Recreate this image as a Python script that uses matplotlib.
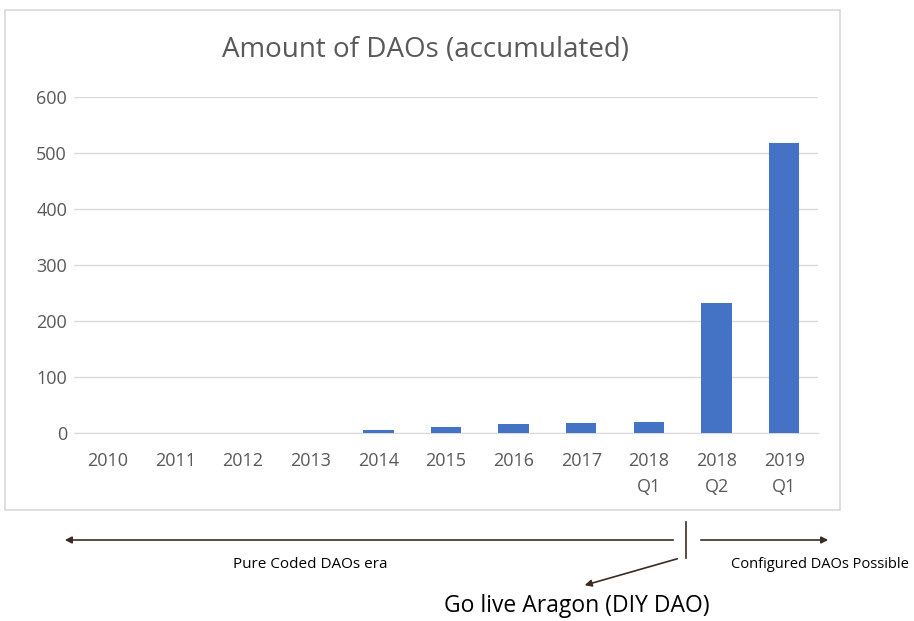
import matplotlib.pyplot as plt
from matplotlib.patches import Rectangle, FancyArrowPatch

categories = ['2010', '2011', '2012', '2013', '2014', '2015', '2016', '2017',
              '2018\nQ1', '2018\nQ2', '2019\nQ1']
values = [0, 0, 0, 0, 6, 10, 16, 17, 20, 233, 518]
yticks = [0, 100, 200, 300, 400, 500, 600]

W, H = 914, 621
plt.rcParams['font.family'] = ['Open Sans', 'DejaVu Sans']

fig = plt.figure(figsize=(W / 100, H / 100), dpi=100)
fig.patch.set_facecolor('white')


def fx(px):
    return px / W


def fy(py):
    return 1 - py / H


# chart frame
fig.patches.append(Rectangle((fx(5), fy(510)), fx(840) - fx(5), fy(10) - fy(510),
                             transform=fig.transFigure, fill=False,
                             edgecolor='#d9d9d9', linewidth=1.2))

ax = fig.add_axes([fx(74), fy(433), fx(818) - fx(74), fy(97) - fy(433)])
x = range(len(categories))
ax.bar(x, values, width=0.45, color='#4472c4', zorder=3)
ax.set_xlim(-0.5, len(categories) - 0.5)
ax.set_ylim(0, 600)
ax.set_yticks(yticks)
ax.set_xticks(list(x))
ax.set_xticklabels(categories, fontsize=13, color='#595959', linespacing=1.55)
ax.tick_params(axis='y', labelsize=13, labelcolor='#595959', length=0, pad=5)
ax.tick_params(axis='x', length=0, pad=14)
ax.grid(axis='y', color='#d9d9d9', linewidth=1)
ax.set_axisbelow(True)
for s in ['top', 'right', 'left']:
    ax.spines[s].set_visible(False)
ax.spines['bottom'].set_color('#d9d9d9')

fig.text(fx(426), fy(50), 'Amount of DAOs (accumulated)', ha='center', va='center',
         fontsize=20, color='#595959')

# timeline below the chart
line_c = '#3b2b22'
fig.patches.append(FancyArrowPatch((fx(676), fy(540)), (fx(62), fy(540)),
                                   transform=fig.transFigure, arrowstyle='-|>',
                                   mutation_scale=10, color=line_c, linewidth=1.2))
fig.patches.append(FancyArrowPatch((fx(698), fy(540)), (fx(831), fy(540)),
                                   transform=fig.transFigure, arrowstyle='-|>',
                                   mutation_scale=10, color=line_c, linewidth=1.2))
fig.lines.append(plt.Line2D([fx(686), fx(686)], [fy(522), fy(558)],
                            transform=fig.transFigure, color=line_c, linewidth=1.2))
fig.patches.append(FancyArrowPatch((fx(680), fy(558)), (fx(582), fy(586)),
                                   transform=fig.transFigure, arrowstyle='-|>',
                                   mutation_scale=10, color=line_c, linewidth=1.2))

fig.text(fx(310), fy(564), 'Pure Coded DAOs era', ha='center', va='center',
         fontsize=11, color='black')
fig.text(fx(820), fy(564), 'Configured DAOs Possible', ha='center', va='center',
         fontsize=10.5, color='black')
fig.text(fx(577), fy(606), 'Go live Aragon (DIY DAO)', ha='center', va='center',
         fontsize=16.5, color='black')

fig.savefig('out.png', dpi=100)
